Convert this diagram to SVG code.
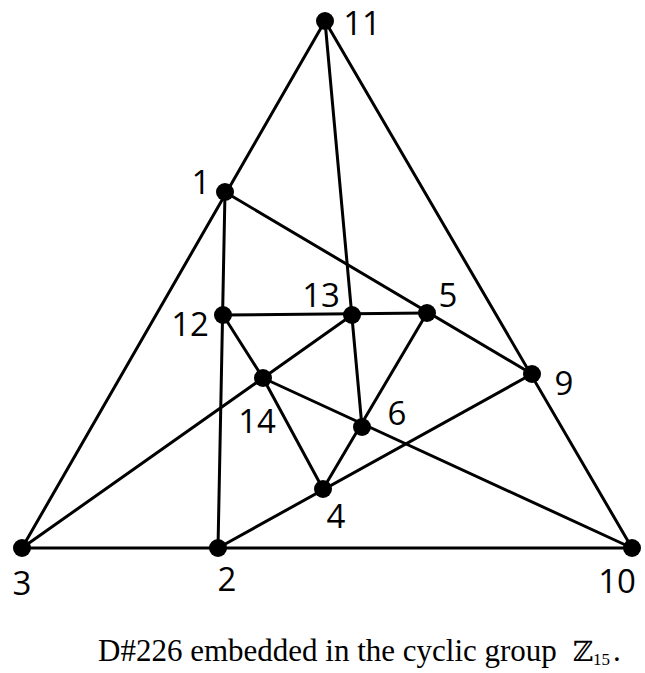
<svg xmlns="http://www.w3.org/2000/svg" width="645" height="673" viewBox="0 0 645 673">
<style>
.e{stroke:#000;stroke-width:3;fill:none;stroke-linecap:round}
.n{fill:#000}
.l{font-family:"Open Sans","DejaVu Sans",sans-serif;font-size:33px;fill:#000;text-anchor:middle}
.c{font-family:"Liberation Serif","DejaVu Serif",serif;font-size:31px;fill:#000}
</style>
<rect width="645" height="673" fill="#fff"/>
<g id="connectors">
<line class="e" x1="325" y1="21" x2="22" y2="548"/>
<line class="e" x1="325" y1="21" x2="632" y2="548"/>
<line class="e" x1="22" y1="548" x2="632" y2="548"/>
<line class="e" x1="325" y1="21" x2="362" y2="427"/>
<line class="e" x1="225" y1="192" x2="218" y2="548"/>
<line class="e" x1="225" y1="192" x2="532" y2="374"/>
<line class="e" x1="223" y1="315" x2="427" y2="313"/>
<line class="e" x1="223" y1="315" x2="263" y2="378"/>
<line class="e" x1="263" y1="378" x2="323" y2="489"/>
<line class="e" x1="263" y1="378" x2="352" y2="315"/>
<line class="e" x1="22" y1="548" x2="263" y2="378"/>
<line class="e" x1="263" y1="378" x2="632" y2="548"/>
<line class="e" x1="427" y1="313" x2="323" y2="489"/>
<line class="e" x1="218" y1="548" x2="532" y2="374"/>
</g>
<g id="n11"><circle class="n" cx="325" cy="21" r="9"/><text class="l" x="362" y="35">11</text></g>
<g id="n1"><circle class="n" cx="225" cy="192" r="9"/><text class="l" x="201" y="194">1</text></g>
<g id="n12"><circle class="n" cx="223" cy="315" r="9"/><text class="l" x="190" y="336">12</text></g>
<g id="n13"><circle class="n" cx="352" cy="315" r="9"/><text class="l" x="321" y="307">13</text></g>
<g id="n5"><circle class="n" cx="427" cy="313" r="9"/><text class="l" x="448" y="307">5</text></g>
<g id="n9"><circle class="n" cx="532" cy="374" r="9"/><text class="l" x="564" y="395">9</text></g>
<g id="n14"><circle class="n" cx="263" cy="378" r="9"/><text class="l" x="257" y="433">14</text></g>
<g id="n6"><circle class="n" cx="362" cy="427" r="9"/><text class="l" x="397" y="425">6</text></g>
<g id="n4"><circle class="n" cx="323" cy="489" r="9"/><text class="l" x="336" y="528">4</text></g>
<g id="n3"><circle class="n" cx="22" cy="548" r="9"/><text class="l" x="22" y="595">3</text></g>
<g id="n2"><circle class="n" cx="218" cy="548" r="9"/><text class="l" x="227" y="591">2</text></g>
<g id="n10"><circle class="n" cx="632" cy="548" r="9"/><text class="l" x="617" y="593">10</text></g>
<text class="c" x="98" y="661">D#226 embedded in the cyclic group <tspan dx="8" font-family="DejaVu Serif" font-size="28">ℤ</tspan><tspan font-size="17" dy="4">15</tspan><tspan dx="3" dy="-4">.</tspan></text>
</svg>
